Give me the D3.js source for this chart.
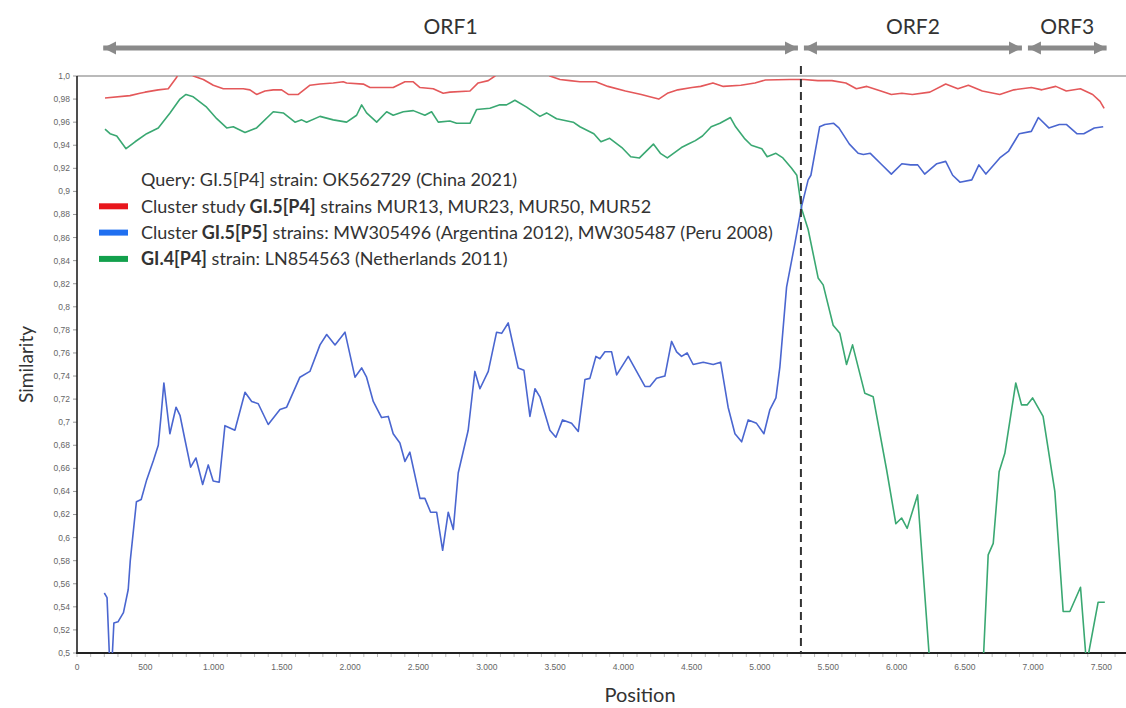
<!DOCTYPE html>
<html>
<head>
<meta charset="utf-8">
<script src="https://cdn.jsdelivr.net/npm/d3@7"></script>
<style>
  body { margin: 0; background: #fff; }
  svg { display: block; font-family: "Lato", "Open Sans", sans-serif; }
  .tick-label { font-family: "Liberation Sans", sans-serif; font-size: 8.5px; fill: #666; }
</style>
</head>
<body>
<div id="chart"></div>
<script>
// Similarity plot data: [position, similarity]
const clusterP4 = [[205,0.981],[388,0.983],[461,0.985],[498,0.986],[595,0.988],[668,0.989],[730,0.999],[754,1.006],[827,1.006],[851,1.0],[925,0.997],[998,0.992],[1071,0.989],[1217,0.989],[1266,0.988],[1315,0.984],[1376,0.987],[1437,0.988],[1498,0.988],[1547,0.984],[1620,0.984],[1706,0.992],[1779,0.993],[1876,0.994],[1949,0.995],[1974,0.994],[2096,0.993],[2145,0.99],[2315,0.99],[2401,0.995],[2462,0.995],[2511,0.99],[2608,0.989],[2681,0.985],[2730,0.986],[2877,0.987],[2937,0.994],[3011,0.996],[3060,1.0],[3096,1.006],[3426,1.006],[3462,1.0],[3536,0.997],[3609,0.996],[3682,0.995],[3798,0.995],[3887,0.991],[4015,0.987],[4131,0.984],[4194,0.982],[4259,0.98],[4322,0.985],[4399,0.988],[4502,0.99],[4566,0.991],[4656,0.994],[4732,0.991],[4860,0.992],[4963,0.994],[5040,0.9965],[5219,0.997],[5322,0.997],[5424,0.996],[5527,0.996],[5629,0.994],[5706,0.989],[5783,0.991],[5885,0.987],[5962,0.984],[6039,0.985],[6116,0.984],[6244,0.986],[6360,0.993],[6449,0.989],[6526,0.992],[6628,0.987],[6756,0.984],[6859,0.988],[6987,0.99],[7064,0.988],[7166,0.991],[7243,0.987],[7346,0.989],[7436,0.984],[7490,0.978],[7520,0.972]]

const clusterP5 = [[200,0.552],[220,0.548],[240,0.49],[255,0.49],[270,0.526],[300,0.527],[340,0.535],[375,0.555],[390,0.58],[435,0.631],[470,0.633],[510,0.65],[560,0.667],[595,0.68],[615,0.705],[636,0.734],[680,0.69],[725,0.713],[754,0.706],[790,0.685],[832,0.661],[871,0.669],[920,0.646],[961,0.663],[997,0.649],[1041,0.648],[1083,0.697],[1156,0.693],[1230,0.726],[1279,0.718],[1327,0.716],[1400,0.698],[1486,0.711],[1535,0.713],[1632,0.739],[1705,0.744],[1779,0.767],[1828,0.776],[1889,0.767],[1962,0.778],[2035,0.739],[2084,0.747],[2120,0.739],[2169,0.718],[2230,0.704],[2279,0.705],[2315,0.69],[2364,0.682],[2401,0.666],[2437,0.674],[2511,0.634],[2547,0.634],[2589,0.622],[2633,0.622],[2677,0.589],[2718,0.622],[2755,0.607],[2791,0.656],[2864,0.693],[2913,0.744],[2950,0.729],[3011,0.744],[3072,0.778],[3109,0.777],[3157,0.786],[3230,0.747],[3272,0.745],[3316,0.705],[3353,0.729],[3389,0.722],[3462,0.693],[3506,0.687],[3555,0.702],[3621,0.699],[3670,0.692],[3719,0.737],[3755,0.738],[3799,0.757],[3828,0.755],[3865,0.761],[3914,0.761],[3951,0.741],[4036,0.757],[4097,0.744],[4158,0.731],[4194,0.731],[4243,0.738],[4304,0.74],[4353,0.77],[4390,0.761],[4426,0.757],[4467,0.76],[4511,0.75],[4585,0.752],[4658,0.75],[4712,0.752],[4767,0.713],[4817,0.69],[4866,0.683],[4914,0.702],[4975,0.699],[5029,0.69],[5073,0.711],[5117,0.721],[5146,0.748],[5195,0.817],[5256,0.855],[5305,0.887],[5353,0.91],[5373,0.914],[5437,0.956],[5475,0.958],[5540,0.959],[5578,0.955],[5655,0.941],[5719,0.933],[5757,0.932],[5808,0.933],[5885,0.924],[5962,0.915],[6039,0.924],[6103,0.923],[6155,0.923],[6206,0.915],[6295,0.924],[6360,0.926],[6411,0.914],[6464,0.908],[6551,0.91],[6603,0.923],[6654,0.915],[6756,0.929],[6821,0.935],[6898,0.95],[6987,0.952],[7038,0.964],[7115,0.955],[7192,0.958],[7243,0.958],[7320,0.95],[7371,0.95],[7448,0.955],[7513,0.956]]

const gi4P4 = [[205,0.954],[242,0.95],[291,0.948],[359,0.937],[425,0.943],[510,0.95],[595,0.955],[681,0.968],[754,0.98],[798,0.984],[851,0.982],[949,0.973],[1023,0.963],[1096,0.955],[1144,0.956],[1230,0.951],[1315,0.955],[1437,0.969],[1510,0.968],[1596,0.96],[1645,0.962],[1681,0.96],[1779,0.965],[1876,0.962],[1974,0.96],[2047,0.966],[2084,0.975],[2120,0.968],[2194,0.96],[2267,0.969],[2315,0.966],[2389,0.969],[2462,0.97],[2547,0.966],[2596,0.969],[2645,0.96],[2730,0.961],[2779,0.959],[2877,0.959],[2926,0.971],[3023,0.972],[3096,0.975],[3145,0.975],[3206,0.979],[3292,0.973],[3389,0.965],[3438,0.968],[3511,0.963],[3633,0.96],[3682,0.956],[3784,0.95],[3836,0.943],[3900,0.946],[3989,0.938],[4054,0.93],[4118,0.929],[4220,0.941],[4271,0.933],[4322,0.929],[4425,0.938],[4476,0.941],[4527,0.944],[4579,0.948],[4643,0.956],[4707,0.959],[4784,0.964],[4822,0.956],[4886,0.946],[4937,0.94],[5014,0.937],[5053,0.93],[5117,0.933],[5168,0.929],[5232,0.92],[5270,0.914],[5305,0.885],[5353,0.867],[5426,0.825],[5463,0.819],[5536,0.784],[5585,0.777],[5634,0.75],[5678,0.767],[5768,0.725],[5829,0.722],[5927,0.659],[5995,0.612],[6037,0.617],[6078,0.608],[6154,0.637],[6244,0.49],[6634,0.49],[6671,0.585],[6708,0.595],[6751,0.657],[6793,0.673],[6873,0.734],[6915,0.715],[6956,0.715],[6996,0.721],[7073,0.705],[7159,0.64],[7220,0.536],[7269,0.536],[7347,0.557],[7391,0.49],[7476,0.544],[7525,0.544]]

// genome regions
const orfNames = ["ORF1", "ORF2", "ORF3"]
const orfStart = [170, 5300, 6940]
const orfEnd = [5300, 6940, 7560]
const orfBoundary = 5300

const xTicks = d3.range(0, 7501, 500)
const yTicks = d3.range(0.5, 1.0001, 0.02)

// legend rows: [text, bold] parts
const legendRows = [
  { key: null, parts: [["Query: GI.5[P4] strain: OK562729 (China 2021)", false]] },
  { key: "p4", parts: [["Cluster study ", false], ["GI.5[P4]", true], [" strains MUR13, MUR23, MUR50, MUR52", false]] },
  { key: "p5", parts: [["Cluster ", false], ["GI.5[P5]", true], [" strains: MW305496 (Argentina 2012), MW305487 (Peru 2008)", false]] },
  { key: "gi4", parts: [["GI.4[P4]", true], [" strain: LN854563 (Netherlands 2011)", false]] },
]

const lineColor = { p4: "#e4585a", p5: "#4a66d0", gi4: "#3aa872" }
const swatchColor = { p4: "#e8161c", p5: "#1f6ff0", gi4: "#12a04c" }

const width = 1126
const height = 708
const margin = { top: 76, right: 0, bottom: 55, left: 77 }

const x = d3.scaleLinear().domain([0, 7680]).range([margin.left, width - margin.right])
const y = d3.scaleLinear().domain([0.5, 1.0]).range([height - margin.bottom, margin.top])

const locale = d3.formatLocale({ decimal: ",", thousands: ".", grouping: [3], currency: ["", ""] })
const fmtX = locale.format(",")
const fmtY = v => {
  let s = (+v.toFixed(2)).toString()
  if (!s.includes(".")) s += ".0"
  return s.replace(".", ",")
}

const svg = d3.select("#chart").append("svg")
  .attr("width", width)
  .attr("height", height)

svg.append("defs").append("clipPath").attr("id", "plot-clip")
  .append("rect")
  .attr("x", x.range()[0]).attr("y", y.range()[1])
  .attr("width", x.range()[1] - x.range()[0])
  .attr("height", y.range()[0] - y.range()[1])

const defs = svg.select("defs")
defs.append("marker")
  .attr("id", "arrowhead")
  .attr("viewBox", "0 0 10 10")
  .attr("refX", 10).attr("refY", 5)
  .attr("markerUnits", "userSpaceOnUse")
  .attr("markerWidth", 13).attr("markerHeight", 15)
  .attr("orient", "auto-start-reverse")
  .append("path")
  .attr("d", "M0,0L10,5L0,10Z")
  .attr("fill", "#8a8a8a")

// top border
svg.append("line")
  .attr("x1", x.range()[0]).attr("x2", x.range()[1])
  .attr("y1", y(1.0)).attr("y2", y(1.0))
  .attr("stroke", "#777").attr("stroke-width", 1.2)

// Axes
const xAxis = svg.append("g")
  .attr("transform", `translate(0,${y(0.5)})`)

xAxis.selectAll("line.minor")
  .data(d3.range(0, 7680, 100))
  .join("line")
  .attr("class", "minor")
  .attr("x1", d => x(d)).attr("x2", d => x(d))
  .attr("y1", 0).attr("y2", 4)
  .attr("stroke", "#bbb")

xAxis.selectAll("text")
  .data(xTicks)
  .join("text")
  .attr("class", "tick-label")
  .attr("x", d => x(d))
  .attr("y", 17)
  .attr("text-anchor", "middle")
  .text(fmtX)

xAxis.append("line")
  .attr("x1", x.range()[0] - 1).attr("x2", x.range()[1])
  .attr("stroke", "#222").attr("stroke-width", 2)

const yAxis = svg.append("g")
  .attr("transform", `translate(${x(0)},0)`)

yAxis.selectAll("line.tick")
  .data(yTicks)
  .join("line")
  .attr("class", "tick")
  .attr("x1", -4).attr("x2", 0)
  .attr("y1", d => y(d)).attr("y2", d => y(d))
  .attr("stroke", "#999")

yAxis.selectAll("text")
  .data(yTicks)
  .join("text")
  .attr("class", "tick-label")
  .attr("x", -7)
  .attr("y", d => y(d))
  .attr("dy", "0.35em")
  .attr("text-anchor", "end")
  .text(fmtY)

yAxis.append("line")
  .attr("y1", y(1.0)).attr("y2", y(0.5) + 1)
  .attr("stroke", "#222").attr("stroke-width", 1.6)

// Series lines
const line = d3.line()
  .x(d => x(d[0]))
  .y(d => y(d[1]))

const lines = svg.append("g").attr("clip-path", "url(#plot-clip)")

const seriesList = [["gi4", gi4P4], ["p4", clusterP4], ["p5", clusterP5]]
lines.selectAll("path")
  .data(seriesList)
  .join("path")
  .attr("d", d => line(d[1]))
  .attr("fill", "none")
  .attr("stroke", d => lineColor[d[0]])
  .attr("stroke-width", 1.6)
  .attr("stroke-linejoin", "round")

// ORF boundary
svg.append("line")
  .attr("x1", x(orfBoundary)).attr("x2", x(orfBoundary))
  .attr("y1", 66).attr("y2", y(0.5))
  .attr("stroke", "#333")
  .attr("stroke-width", 2)
  .attr("stroke-dasharray", "8,5")

// ORF arrows
const orfs = svg.append("g").attr("class", "orfs")
orfs.selectAll("line")
  .data(orfNames)
  .join("line")
  .attr("x1", (d, i) => x(orfStart[i]) + 3)
  .attr("x2", (d, i) => x(orfEnd[i]) - 3)
  .attr("y1", 48).attr("y2", 48)
  .attr("stroke", "#8a8a8a")
  .attr("stroke-width", 5)
  .attr("marker-start", "url(#arrowhead)")
  .attr("marker-end", "url(#arrowhead)")

orfs.selectAll("text")
  .data(orfNames)
  .join("text")
  .attr("x", (d, i) => (x(orfStart[i]) + x(orfEnd[i])) / 2)
  .attr("y", 34)
  .attr("text-anchor", "middle")
  .attr("fill", "#333")
  .style("font-size", "21px")
  .text(d => d)

// Legend
const legend = svg.append("g").attr("class", "legend")
  .attr("transform", "translate(99,180)")

const rows = legend.selectAll("g")
  .data(legendRows)
  .join("g")
  .attr("transform", (d, i) => `translate(0,${i * 26.3})`)

rows.filter(d => d.key)
  .append("line")
  .attr("x1", 0).attr("x2", 29)
  .attr("stroke", d => swatchColor[d.key])
  .attr("stroke-width", 6)

rows.append("text")
  .attr("x", 42)
  .attr("dy", "0.35em")
  .attr("fill", "#333")
  .style("font-size", "18px")
  .selectAll("tspan")
  .data(d => d.parts)
  .join("tspan")
  .style("font-weight", d => d[1] ? "bold" : "normal")
  .text(d => d[0])

// Axis titles
svg.append("text")
  .attr("transform", `translate(26,${(y(0.5) + y(1.0)) / 2}) rotate(-90)`)
  .attr("text-anchor", "middle")
  .attr("dy", "0.35em")
  .attr("fill", "#333")
  .style("font-size", "19px")
  .text("Similarity")

svg.append("text")
  .attr("x", 640)
  .attr("y", 702)
  .attr("text-anchor", "middle")
  .attr("fill", "#333")
  .style("font-size", "20px")
  .text("Position")
</script>
</body>
</html>
